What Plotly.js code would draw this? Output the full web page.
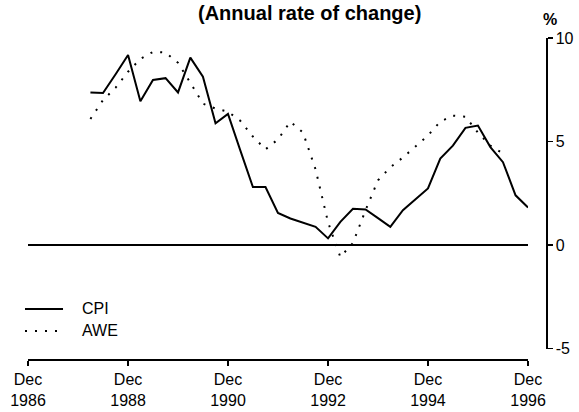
<!DOCTYPE html>
<html>
<head>
<meta charset="utf-8">
<script src="https://cdn.plot.ly/plotly-3.0.1.min.js"></script>
<style>html,body{margin:0;padding:0;background:#fff;}#chart{width:579px;height:412px;}</style>
</head>
<body>
<div id="chart"></div>
<script>
var quarters = ['1988-03-01','1988-06-01','1988-09-01','1988-12-01',
  '1989-03-01','1989-06-01','1989-09-01','1989-12-01',
  '1990-03-01','1990-06-01','1990-09-01','1990-12-01',
  '1991-03-01','1991-06-01','1991-09-01','1991-12-01',
  '1992-03-01','1992-06-01','1992-09-01','1992-12-01',
  '1993-03-01','1993-06-01','1993-09-01','1993-12-01',
  '1994-03-01','1994-06-01','1994-09-01','1994-12-01',
  '1995-03-01','1995-06-01','1995-09-01','1995-12-01',
  '1996-03-01','1996-06-01','1996-09-01','1996-12-01'];
var cpi = [7.37, 7.34, 8.25, 9.18,
  6.94, 7.97, 8.06, 7.37,
  9.05, 8.13, 5.88, 6.33,
  4.57, 2.80, 2.80, 1.55,
  1.28, 1.07, 0.88, 0.32,
  1.12, 1.75, 1.72, 1.30,
  0.88, 1.68, 2.20, 2.73,
  4.17, 4.80, 5.66, 5.77,
  4.73, 4.00, 2.40, 1.81];
var aweDates = quarters.slice(0, 34);
var awe = [6.09, 7.00, 7.60, 8.37,
  8.99, 9.33, 9.30, 8.80,
  7.84, 6.83, 6.59, 6.44,
  6.00, 5.24, 4.62, 5.10,
  5.96, 5.43, 3.65, 1.10,
  -0.58, 0.10, 1.68, 3.13,
  3.75, 4.23, 4.76, 5.29,
  5.96, 6.25, 6.20, 5.43,
  4.80, 4.42];
var seriesNames = ['CPI', 'AWE'];
var xTickVals = ['1986-12-01','1988-12-01','1990-12-01','1992-12-01','1994-12-01','1996-12-01'];
var xTickText = ['Dec<br>1986','Dec<br>1988','Dec<br>1990','Dec<br>1992','Dec<br>1994','Dec<br>1996'];
var yTickVals = [-5, 0, 5, 10];
var yTickText = ['-5', '0', '5', '10'];

var FONT = 'Liberation Sans, Arial, Helvetica, sans-serif';
var AWE_DASH = '2px,8px';

var traces = [
  {x: quarters, y: cpi, name: seriesNames[0], type: 'scatter', mode: 'lines',
   line: {color: '#000', width: 2}, showlegend: false},
  {x: aweDates, y: awe, name: seriesNames[1], type: 'scatter', mode: 'lines',
   line: {color: '#000', width: 2, dash: AWE_DASH}, showlegend: false}
];

// legend keys (drawn as decorations in paper space)
var legendY = [0.1584, 0.0901];
var legendShapes = [
  {type: 'line', xref: 'paper', yref: 'paper', x0: -0.0058, x1: 0.0676, y0: legendY[0], y1: legendY[0],
   line: {color: '#000', width: 2}},
  {type: 'line', xref: 'paper', yref: 'paper', x0: -0.0058, x1: 0.0676, y0: legendY[1], y1: legendY[1],
   line: {color: '#000', width: 2, dash: AWE_DASH}}
];
var legendLabels = seriesNames.map(function (n, i) {
  return {text: n, xref: 'paper', yref: 'paper', x: 0.1004, y: legendY[i],
          xanchor: 'left', yanchor: 'middle', showarrow: false,
          font: {family: FONT, size: 16, color: '#000'}};
});

var layout = {
  width: 579, height: 412,
  margin: {l: 28, r: 33, t: 38, b: 52, pad: 0},
  paper_bgcolor: '#fff', plot_bgcolor: '#fff',
  font: {family: FONT, size: 16, color: '#000'},
  showlegend: false,
  xaxis: {type: 'date', domain: [0, 0.9653], range: ['1986-12-01','1996-12-01'],
          anchor: 'free', position: 0,
          tickmode: 'array', tickvals: xTickVals, ticktext: xTickText,
          ticks: 'outside', ticklen: 5, tickwidth: 1.5, tickcolor: '#000',
          showline: true, linewidth: 2, linecolor: '#000',
          showgrid: false, zeroline: false,
          tickfont: {family: FONT, size: 16, color: '#000'}},
  yaxis: {domain: [0.0357, 1], range: [-5, 10],
          anchor: 'free', position: 1, side: 'right',
          tickmode: 'array', tickvals: yTickVals, ticktext: yTickText,
          ticks: 'outside', ticklen: 5, tickwidth: 1.5, tickcolor: '#000',
          showline: true, linewidth: 1.5, linecolor: '#000',
          showgrid: false, zeroline: false,
          tickfont: {family: FONT, size: 16, color: '#000'}},
  shapes: [
    {type: 'line', xref: 'x', yref: 'y', x0: '1986-12-01', x1: '1996-12-01', y0: 0, y1: 0,
     line: {color: '#000', width: 2}}
  ].concat(legendShapes),
  annotations: [
    {text: '(Annual rate of change)', xref: 'paper', yref: 'paper',
     x: 0.5425, y: 1.117, xanchor: 'center', yanchor: 'top', showarrow: false,
     font: {family: FONT, size: 20, color: '#000', weight: 'bold'}},
    {text: '%', xref: 'paper', yref: 'paper',
     x: 1.0077, y: 1.059, xanchor: 'center', yanchor: 'middle', showarrow: false,
     font: {family: FONT, size: 16, color: '#000', weight: 'bold'}}
  ].concat(legendLabels)
};

Plotly.newPlot('chart', traces, layout, {displayModeBar: false, staticPlot: true});
</script>
</body>
</html>
